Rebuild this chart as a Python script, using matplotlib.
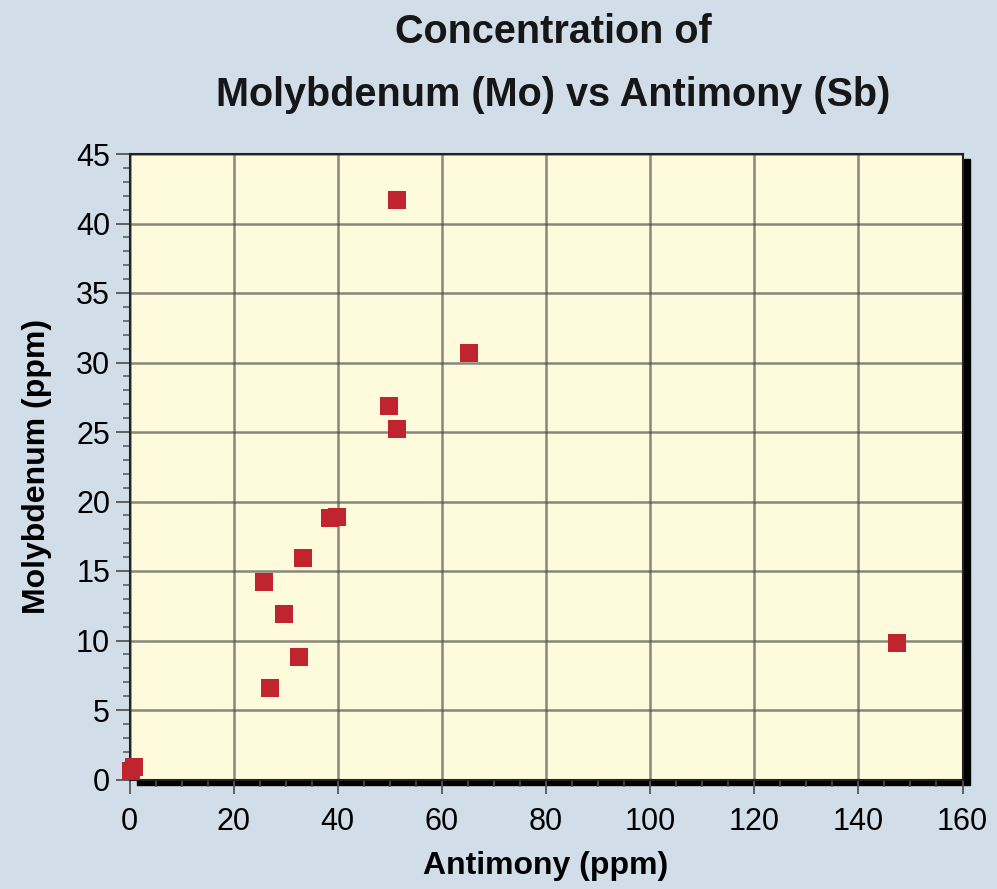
import matplotlib
matplotlib.use("Agg")
import matplotlib.pyplot as plt
from matplotlib.patches import Rectangle
from matplotlib.ticker import MultipleLocator

# Antimony vs molybdenum readings (ppm)
antimony = [0.2, 0.8, 25.9, 29.7, 27.0, 32.6, 33.4, 38.6, 39.9,
            49.9, 51.4, 51.3, 65.2, 147.4]
molybdenum = [0.6, 0.9, 14.2, 11.9, 6.6, 8.8, 15.9, 18.8, 18.9,
              26.9, 25.2, 41.7, 30.7, 9.8]

title_lines = ["Concentration of", "Molybdenum (Mo) vs Antimony (Sb)"]
x_label = "Antimony (ppm)"
y_label = "Molybdenum (ppm)"

bg = "#d1deea"
face = "#fefadc"
red = "#c0252f"

plt.rcParams["font.family"] = ["Liberation Sans", "DejaVu Sans"]

fig = plt.figure(figsize=(9.97, 8.89), dpi=100, facecolor=bg)
W, H = 997, 889
x0, x1, y0, y1 = 129.5, 962.5, 154, 779.5
ax = fig.add_axes([x0 / W, 1 - y1 / H, (x1 - x0) / W, (y1 - y0) / H])
ax.set_facecolor(face)

# drop shadow behind the plotting area
fig.patches.append(Rectangle(((x0 + 7) / W, 1 - (y1 + 5) / H),
                             (x1 - x0) / W, (y1 - y0) / H,
                             transform=fig.transFigure, color="black",
                             zorder=-1))

ax.scatter(antimony, molybdenum, marker="s", s=150, color=red,
           linewidths=0, zorder=3, clip_on=False)

ax.set_xlim(0, 160)
ax.set_ylim(0, 45)
ax.xaxis.set_major_locator(MultipleLocator(20))
ax.xaxis.set_minor_locator(MultipleLocator(5))
ax.yaxis.set_major_locator(MultipleLocator(5))
ax.yaxis.set_minor_locator(MultipleLocator(1))
ax.grid(True, which="major", color="#4a4a44", alpha=0.65, linewidth=1.8)
ax.set_axisbelow(True)

for s in ax.spines.values():
    s.set_color("#222222")
    s.set_linewidth(1.5)

ax.tick_params(which="major", length=10, width=1.3, color="#555555",
               labelsize=22, pad=4)
ax.tick_params(which="minor", length=5, width=1.1, color="#555555")
ax.tick_params(axis="x", pad=10)

ax.set_xlabel(x_label, fontsize=23, fontweight="bold", labelpad=10)
ax.set_ylabel(y_label, fontsize=23, fontweight="bold", labelpad=17)

for line, ypx in zip(title_lines, [32, 95]):
    fig.text(553 / W, 1 - ypx / H, line, fontsize=28.5, fontweight="bold",
             ha="center", va="center", color="#161616")

fig.savefig("out.png", dpi=100, facecolor=bg)
